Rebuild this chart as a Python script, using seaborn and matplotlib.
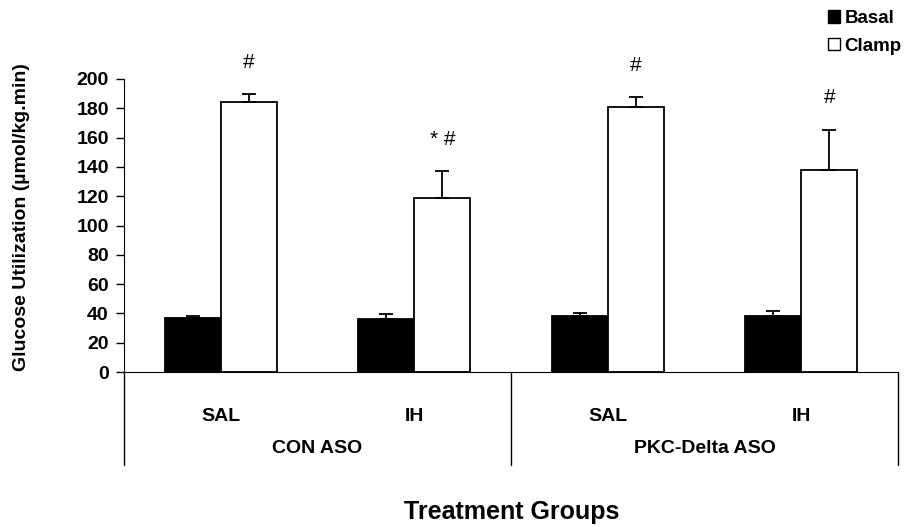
import seaborn as sns
import matplotlib.pyplot as plt
import pandas as pd
from matplotlib.patches import Patch
from matplotlib.transforms import blended_transform_factory

# values
groups = ["CON ASO", "CON ASO", "PKC-Delta ASO", "PKC-Delta ASO"]
treatments = ["SAL", "IH", "SAL", "IH"]
conditions = ["Basal", "Clamp"]
basal = [37.0, 36.5, 38.5, 38.5]
basal_err = [1.5, 3.0, 2.0, 3.0]
clamp = [184.0, 118.5, 181.0, 138.0]
clamp_err = [5.5, 18.5, 6.5, 27.5]
marks = ["#", "* #", "#", "#"]
y_ticks = list(range(0, 201, 20))

keys = [f"{g}|{t}" for g, t in zip(groups, treatments)]
df = pd.DataFrame({
    "key": keys * 2,
    "Condition": ["Basal"] * 4 + ["Clamp"] * 4,
    "value": basal + clamp,
})

sns.set_style("white")
plt.rcParams["font.family"] = ["Liberation Sans", "DejaVu Sans"]
plt.rcParams["font.weight"] = "bold"
for k in ["text.color", "axes.labelcolor", "xtick.color", "ytick.color"]:
    plt.rcParams[k] = "black"

fig = plt.figure(figsize=(9.14, 5.27), dpi=100)
ax = fig.add_axes([0.1357, 0.2941, 0.8468, 0.556])

sns.barplot(data=df, x="key", y="value", hue="Condition", order=keys,
            hue_order=conditions, palette={"Basal": "black", "Clamp": "white"},
            edgecolor="black", linewidth=1.3, width=0.58, gap=0,
            legend=False, ax=ax)

# upward-only error bars and significance marks
for idx, (cont, errs) in enumerate(zip(ax.containers, [basal_err, clamp_err])):
    xs = [b.get_x() + b.get_width() / 2 for b in cont]
    hs = [b.get_height() for b in cont]
    ax.errorbar(xs, hs, yerr=[[0] * len(errs), errs], fmt="none",
                ecolor="black", elinewidth=1.3, capsize=5, capthick=1.3)
    if idx == 1:
        for x, h, e, m in zip(xs, hs, errs, marks):
            ax.text(x, h + e + 22, m, ha="center", va="center",
                    fontsize=15, fontweight="normal", clip_on=False)

ax.set_ylim(0, 200)
ax.set_xlim(-0.5, 3.5)
ax.set_yticks(y_ticks)
ax.tick_params(axis="y", left=True, length=6, width=1, labelsize=14, pad=5)
ax.tick_params(axis="x", length=0, labelsize=14, pad=26)
ax.set_xticks(range(4))
ax.set_xticklabels(treatments)
ax.set_xlabel("")
ax.set_ylabel("Glucose Utilization (\u00b5mol/kg.min)", fontsize=14,
              fontweight="bold")
ax.yaxis.set_label_coords(-0.122, 0.53)
for lab in ax.get_xticklabels() + ax.get_yticklabels():
    lab.set_fontweight("bold")

sns.despine(ax=ax)
ax.spines["left"].set_color("black")
ax.spines["bottom"].set_color("black")

# grouped category table under the axis
trans = blended_transform_factory(ax.transData, ax.transAxes)
for xv in [-0.5, 1.5, 3.5]:
    ax.plot([xv, xv], [0, -0.317], transform=trans, color="black",
            lw=1, clip_on=False)
for i in range(0, 4, 2):
    ax.text((i + i + 1) / 2, -0.26, groups[i], transform=trans,
            ha="center", va="center", fontsize=14, fontweight="bold")

fig.text(0.56, 0.028, "Treatment Groups", ha="center", va="center",
         fontsize=18, fontweight="bold")

handles = [Patch(facecolor="black", edgecolor="black", label="Basal"),
           Patch(facecolor="white", edgecolor="black", label="Clamp")]
fig.legend(handles=handles, loc="upper right", bbox_to_anchor=(0.998, 1.0),
           frameon=False, handlelength=0.65, handleheight=0.65,
           handletextpad=0.25, labelspacing=0.55, borderaxespad=0.15,
           prop={"weight": "bold", "size": 13.5})

fig.savefig("out.png", dpi=100)
